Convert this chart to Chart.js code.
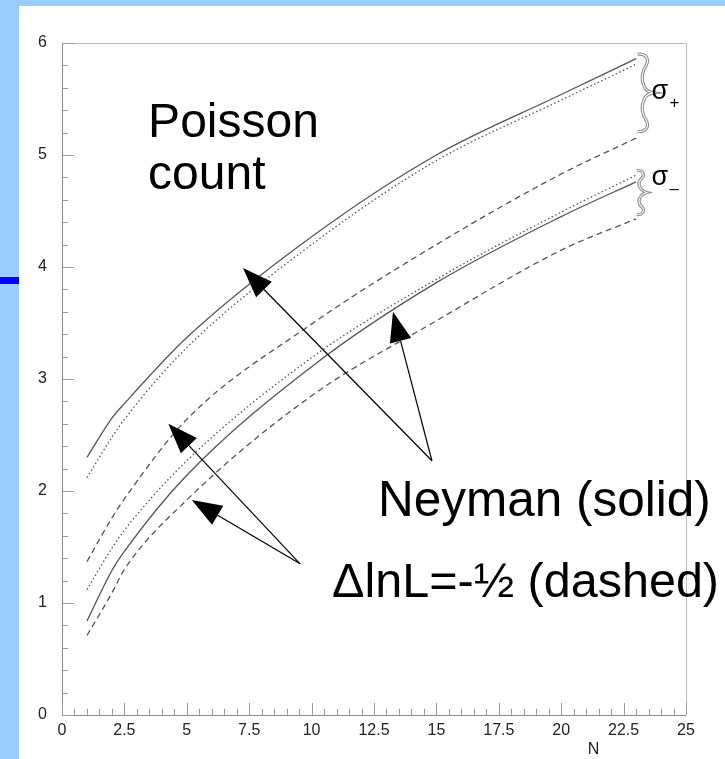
<!DOCTYPE html>
<html lang="en">
<head>
<meta charset="UTF-8">
<title>Poisson count intervals</title>
<script src="https://cdn.jsdelivr.net/npm/chart.js"></script>
<style>
  html, body { margin: 0; padding: 0; background: #99ccff; }
  #wrap { width: 725px; height: 759px; }
</style>
</head>
<body>
<div id="wrap"><canvas id="chart" width="725" height="759"></canvas></div>
<script>
const nValues    = [1, 2, 2.5, 5, 10, 15, 20, 23];
const neymanUp   = [2.30, 2.65, 2.78, 3.37, 4.27, 5.00, 5.54, 5.86];
const dottedUp   = [2.12, 2.48, 2.64, 3.28, 4.20, 4.95, 5.49, 5.81];
const lnlUp      = [1.37, 1.76, 1.93, 2.64, 3.49, 4.20, 4.83, 5.15];
const dottedDown = [1.12, 1.49, 1.65, 2.27, 3.19, 3.89, 4.49, 4.82];
const neymanDown = [0.84, 1.29, 1.46, 2.14, 3.11, 3.86, 4.45, 4.76];
const lnlDown    = [0.71, 1.09, 1.30, 1.92, 2.85, 3.52, 4.15, 4.43];

const xMin = 0, xMax = 25, xStep = 2.5, xMinor = 0.5;
const yMin = 0, yMax = 6, yStep = 1, yMinor = 0.2;

const SOLID = [], DOTTED = [1.5, 2.5], DASHED = [6, 4];
const curves = [
  { label: 'Neyman sigma+', values: neymanUp, dash: SOLID },
  { label: 'sigma+ (dotted)', values: dottedUp, dash: DOTTED },
  { label: 'dlnL sigma+', values: lnlUp, dash: DASHED },
  { label: 'sigma- (dotted)', values: dottedDown, dash: DOTTED },
  { label: 'Neyman sigma-', values: neymanDown, dash: SOLID },
  { label: 'dlnL sigma-', values: lnlDown, dash: DASHED }
];

// annotations, in data units (N, value)
const labels = [
  { text: 'Poisson', n: 3.45, v: 5.16, size: 48 },
  { text: 'count', n: 3.45, v: 4.70, size: 48 },
  { text: 'Neyman (solid)', n: 12.66, v: 1.78, size: 49.5 },
  { text: '\u0394lnL=-\u00bd (dashed)', n: 10.82, v: 1.05, size: 48.5 }
];
const arrows = [
  { from: [14.82, 2.27], to: [7.25, 3.99] },
  { from: [14.82, 2.27], to: [13.26, 3.60] },
  { from: [9.54, 1.35], to: [4.26, 2.60] },
  { from: [9.54, 1.35], to: [5.20, 1.92] }
];
const braces = [
  { n: 23.06, top: 5.90, bottom: 5.21, w: 16, sub: '+', sn: 23.62, sv: 5.50 },
  { n: 23.03, top: 4.86, bottom: 4.47, w: 10, sub: '\u2013', sn: 23.62, sv: 4.73 }
];

function drawArrow(ctx, x1, y1, x2, y2) {
  const ang = Math.atan2(y2 - y1, x2 - x1);
  const len = 30, half = 11;
  const bx = x2 - len * Math.cos(ang), by = y2 - len * Math.sin(ang);
  ctx.beginPath();
  ctx.moveTo(x1, y1);
  ctx.lineTo(bx, by);
  ctx.stroke();
  ctx.beginPath();
  ctx.moveTo(x2, y2);
  ctx.lineTo(bx + half * Math.sin(ang), by - half * Math.cos(ang));
  ctx.lineTo(bx - half * Math.sin(ang), by + half * Math.cos(ang));
  ctx.closePath();
  ctx.fill();
}

function bracePath(ctx, x, yT, yB, w) {
  const ym = (yT + yB) / 2, h = yB - yT;
  const xc = x + w * 0.42;
  ctx.beginPath();
  ctx.moveTo(x, yT);
  ctx.bezierCurveTo(x + w * 0.5, yT - 1, x + w * 0.75, yT + h * 0.06, xc + 2, yT + h * 0.14);
  ctx.bezierCurveTo(xc - 3, yT + h * 0.24, xc - 3, yT + h * 0.34, xc, ym - h * 0.08);
  ctx.quadraticCurveTo(xc + 2, ym - 1, x + w, ym);
  ctx.quadraticCurveTo(xc + 2, ym + 1, xc, ym + h * 0.08);
  ctx.bezierCurveTo(xc - 3, yB - h * 0.34, xc - 3, yB - h * 0.24, xc + 2, yB - h * 0.14);
  ctx.bezierCurveTo(x + w * 0.75, yB - h * 0.06, x + w * 0.5, yB + 1, x, yB);
}

const decor = {
  id: 'decor',
  beforeDraw(chart) {
    const ctx = chart.ctx;
    ctx.save();
    ctx.fillStyle = '#99ccff';
    ctx.fillRect(0, 0, chart.width, chart.height);
    ctx.fillStyle = '#ffffff';
    ctx.fillRect(19, 6, chart.width - 19, chart.height - 6);
    ctx.fillStyle = '#0000ff';
    ctx.fillRect(0, 277, 19, 7);
    ctx.restore();
  },
  beforeDatasetsDraw(chart) {
    const { ctx, chartArea: a, scales: { x, y } } = chart;
    ctx.save();
    ctx.strokeStyle = '#bbbbbb';
    ctx.lineWidth = 1;
    ctx.beginPath();
    ctx.moveTo(a.left, a.top + 0.5);
    ctx.lineTo(a.right + 0.5, a.top + 0.5);
    ctx.lineTo(a.right + 0.5, a.bottom);
    ctx.stroke();
    ctx.strokeStyle = '#8a8a8a';
    ctx.beginPath();
    ctx.moveTo(a.left + 0.5, a.top);
    ctx.lineTo(a.left + 0.5, a.bottom + 0.5);
    ctx.lineTo(a.right, a.bottom + 0.5);
    ctx.stroke();
    // inward tick marks
    ctx.strokeStyle = '#999999';
    ctx.beginPath();
    const nx = Math.round((xMax - xMin) / xMinor);
    for (let i = 0; i <= nx; i++) {
      const v = xMin + i * xMinor;
      const px = Math.round(x.getPixelForValue(v)) + 0.5;
      const major = i % Math.round(xStep / xMinor) === 0;
      ctx.moveTo(px, a.bottom);
      ctx.lineTo(px, a.bottom - (major ? 12 : 6));
    }
    const ny = Math.round((yMax - yMin) / yMinor);
    for (let i = 0; i <= ny; i++) {
      const v = yMin + i * yMinor;
      const py = Math.round(y.getPixelForValue(v)) + 0.5;
      const major = i % Math.round(yStep / yMinor) === 0;
      ctx.moveTo(a.left, py);
      ctx.lineTo(a.left + (major ? 12 : 6), py);
    }
    ctx.stroke();
    // axis title
    ctx.fillStyle = '#222';
    ctx.font = '16px "Liberation Sans", Arial, sans-serif';
    ctx.textAlign = 'center';
    ctx.textBaseline = 'middle';
    ctx.fillText('N', x.getPixelForValue(21.3), 750);
    ctx.restore();
  },
  afterDatasetsDraw(chart) {
    const { ctx, scales: { x, y } } = chart;
    ctx.save();
    ctx.fillStyle = '#000';
    ctx.textAlign = 'left';
    ctx.textBaseline = 'alphabetic';
    labels.forEach(l => {
      ctx.font = l.size + 'px "Liberation Sans", Arial, sans-serif';
      ctx.fillText(l.text, x.getPixelForValue(l.n), y.getPixelForValue(l.v));
    });

    ctx.strokeStyle = '#000';
    ctx.lineWidth = 1.2;
    arrows.forEach(a => drawArrow(ctx,
      x.getPixelForValue(a.from[0]), y.getPixelForValue(a.from[1]),
      x.getPixelForValue(a.to[0]), y.getPixelForValue(a.to[1])));

    braces.forEach(b => {
      const bx = x.getPixelForValue(b.n);
      const yT = y.getPixelForValue(b.top), yB = y.getPixelForValue(b.bottom);
      bracePath(ctx, bx, yT, yB, b.w);
      ctx.strokeStyle = '#8c8c8c';
      ctx.lineWidth = 3.2;
      ctx.stroke();
      bracePath(ctx, bx, yT, yB, b.w);
      ctx.strokeStyle = '#fff';
      ctx.lineWidth = 1.1;
      ctx.stroke();
      const sx = x.getPixelForValue(b.sn), sy = y.getPixelForValue(b.sv);
      ctx.fillStyle = '#000';
      ctx.font = '27px "Liberation Sans", Arial, sans-serif';
      ctx.textBaseline = 'alphabetic';
      ctx.fillText('\u03c3', sx, sy);
      ctx.font = '17px "Liberation Sans", Arial, sans-serif';
      ctx.fillText(b.sub, sx + 18, sy + 9);
    });
    ctx.restore();
  }
};

const tickFont = { family: '"Liberation Sans", Arial, sans-serif', size: 16 };

new Chart(document.getElementById('chart'), {
  type: 'line',
  data: {
    datasets: curves.map(c => ({
      label: c.label,
      data: nValues.map((n, i) => ({ x: n, y: c.values[i] })),
      borderColor: '#555555',
      borderWidth: 1.3,
      borderDash: c.dash,
      pointRadius: 0,
      fill: false,
      cubicInterpolationMode: 'monotone'
    }))
  },
  options: {
    responsive: false,
    animation: false,
    devicePixelRatio: 1,
    layout: { padding: { top: 43, right: 39, left: 0, bottom: 0 } },
    plugins: { legend: { display: false }, tooltip: { enabled: false } },
    scales: {
      x: {
        type: 'linear', min: xMin, max: xMax,
        grid: { display: false, drawTicks: false },
        border: { display: false },
        ticks: { stepSize: xStep, padding: 6, color: '#222', font: tickFont, maxRotation: 0 },
        afterFit: s => { s.height = 44; }
      },
      y: {
        type: 'linear', min: yMin, max: yMax,
        grid: { display: false, drawTicks: false },
        border: { display: false },
        ticks: { stepSize: yStep, padding: 15, color: '#222', font: tickFont },
        afterFit: s => { s.width = 62; }
      }
    }
  },
  plugins: [decor]
});
</script>
</body>
</html>
